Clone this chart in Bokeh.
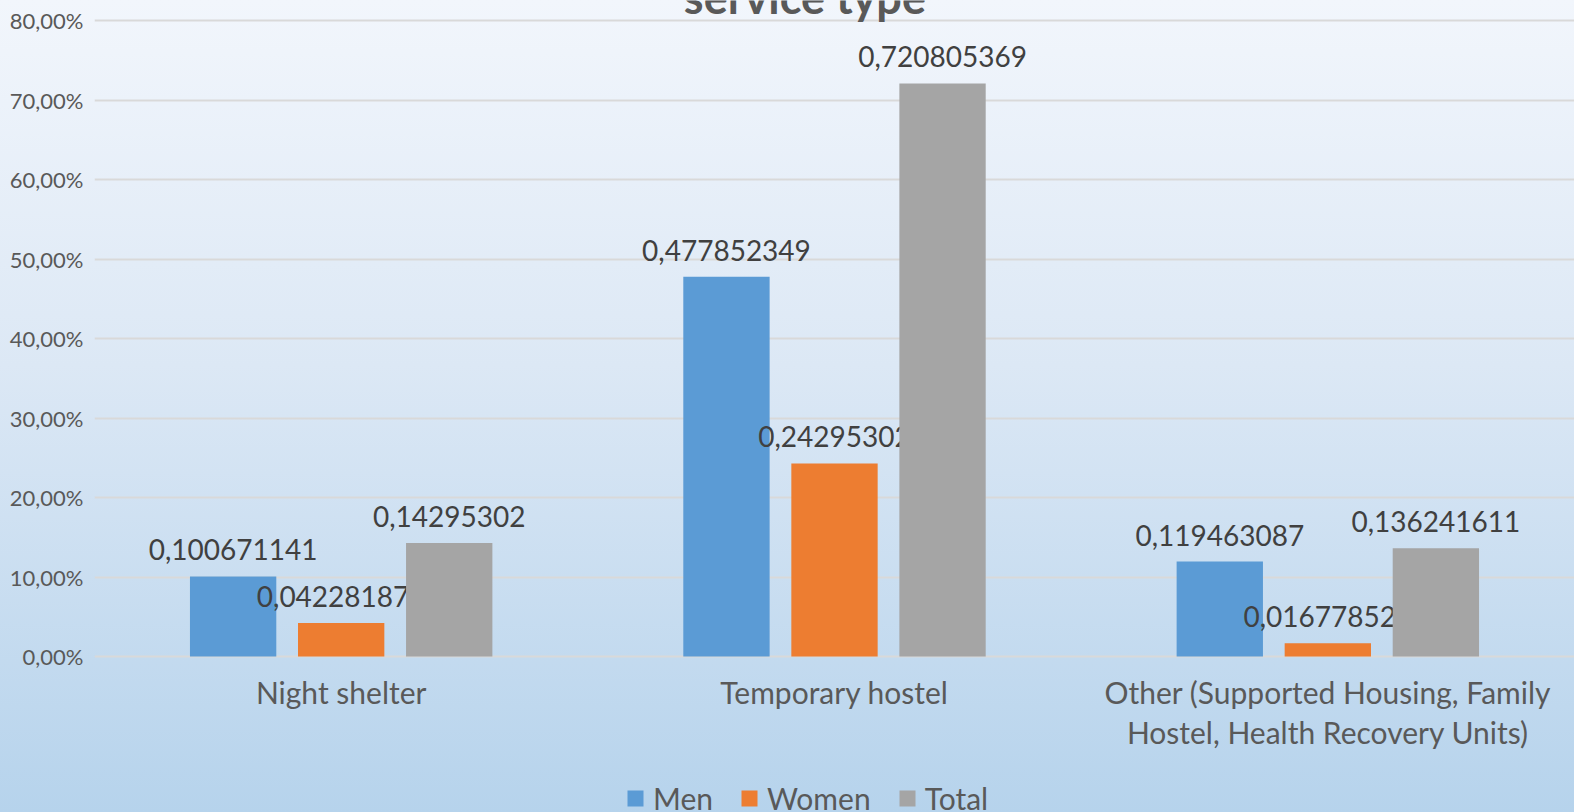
from bokeh.plotting import figure
from bokeh.models import ColumnDataSource, FactorRange, Range1d, FixedTicker, Legend, LegendItem, Label
from bokeh.transform import dodge
from bokeh.core.properties import value
from bokeh.embed import file_html
from bokeh.resources import INLINE

categories = ["Night shelter", "Temporary hostel",
              "Other (Supported Housing, Family\nHostel, Health Recovery Units)"]
men = [0.100671141, 0.477852349, 0.119463087]
women = [0.042281879, 0.24295302, 0.016778523]
total = [0.14295302, 0.720805369, 0.136241611]
series_names = ["Men", "Women", "Total"]
series_colors = ["#5B9BD5", "#ED7D31", "#A5A5A5"]
y_ticks = [0.0, 0.1, 0.2, 0.3, 0.4, 0.5, 0.6, 0.7, 0.8]
y_tick_labels = ["0,00%", "10,00%", "20,00%", "30,00%", "40,00%", "50,00%", "60,00%", "70,00%", "80,00%"]
title_text = "service type"

FONT = "Lato"

# frame spans the full page height so that title and legend sit inside it
p = figure(x_range=FactorRange(*categories, range_padding=0), y_range=Range1d(-0.1962, 0.8252),
           width=1574, height=812, output_backend="svg", toolbar_location=None,
           min_border_left=94, min_border_right=0, min_border_top=0, min_border_bottom=0)
p.background_fill_color = None
p.border_fill_color = None
p.outline_line_color = None
p.styles = {"background": "linear-gradient(to bottom, #F2F6FC 0%, #DCE8F5 45%, #B6D3EC 100%)"}

p.xgrid.grid_line_color = None
p.ygrid.grid_line_color = "#D9D9D9"
p.ygrid.grid_line_width = 2

p.yaxis.ticker = FixedTicker(ticks=y_ticks)
p.yaxis.major_label_overrides = {t: l for t, l in zip(y_ticks, y_tick_labels)}
p.yaxis.axis_line_color = None
p.yaxis.major_tick_line_color = None
p.yaxis.minor_tick_line_color = None
p.yaxis.major_tick_out = 0
p.yaxis.major_tick_in = 0
p.yaxis.major_label_text_font = FONT
p.yaxis.major_label_text_font_size = "22px"
p.yaxis.major_label_text_color = "#595959"
p.yaxis.major_label_standoff = 11

p.xaxis.fixed_location = 0
p.xaxis.axis_line_color = None
p.xaxis.major_tick_line_color = None
p.xaxis.major_tick_out = 0
p.xaxis.major_tick_in = 0
p.xaxis.major_label_text_font = FONT
p.xaxis.major_label_text_font_size = "30px"
p.xaxis.major_label_text_color = "#595959"
p.xaxis.major_label_text_line_height = 1.125
p.xaxis.major_label_standoff = 17

offsets = [-0.219, 0.0, 0.219]
series_values = [men, women, total]
items = []
for name, vals, col, off in zip(series_names, series_values, series_colors, offsets):
    src = ColumnDataSource(dict(cat=categories, val=vals,
                                lab=[str(v).replace(".", ",") for v in vals]))
    r = p.vbar(x=dodge("cat", off, range=p.x_range), top="val", width=0.175, source=src,
               fill_color=col, line_color=None)
    p.text(x=dodge("cat", off, range=p.x_range), y="val", text="lab", source=src,
           text_align="center", text_baseline="bottom", y_offset=-16,
           text_font=value(FONT), text_font_size="28px", text_color="#404040")
    items.append(LegendItem(label=name, renderers=[r]))

legend = Legend(items=items, orientation="horizontal", location=(531, -4),
                background_fill_alpha=0, border_line_color=None,
                label_text_font=FONT, label_text_font_size="30px", label_text_color="#595959",
                label_text_line_height=0.9,
                glyph_width=20, glyph_height=20, label_standoff=8, spacing=26, padding=0, margin=0)
p.add_layout(legend, "center")

title = Label(x=1.44, y=0.830, text=title_text, text_align="center", text_baseline="alphabetic",
              text_font=FONT, text_font_size="45px", text_font_style="bold", text_color="#595959")
p.add_layout(title)

open("out.html", "w").write(file_html(p, INLINE))
